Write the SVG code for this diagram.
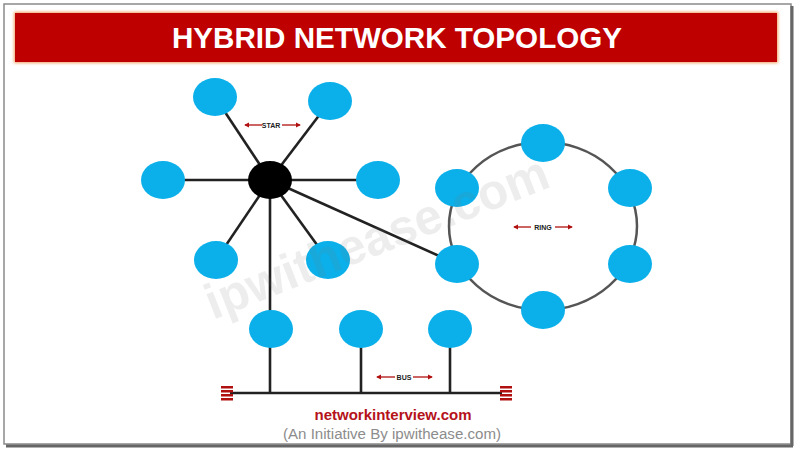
<svg xmlns="http://www.w3.org/2000/svg" width="800" height="455" viewBox="0 0 800 455">
<defs>
<style>
.node{fill:#0bb0ea}
.hub{fill:#000}
.edge{stroke:#222;stroke-width:2.6;fill:none}
.ring{stroke:#555;stroke-width:2.5;fill:none}
.lbl{font-family:"Liberation Sans",Arial,sans-serif;font-weight:bold;font-size:7px;fill:#222}
.arr{stroke:#b01010;stroke-width:1.3;fill:none}
.term{fill:#b01010}
</style>
<marker id="ah" viewBox="0 0 6 6" refX="5" refY="3" markerWidth="4" markerHeight="4" orient="auto-start-reverse">
<path d="M0,0 L6,3 L0,6 z" fill="#b01010"/>
</marker>
<filter id="glow" x="-5%" y="-20%" width="110%" height="140%">
<feGaussianBlur stdDeviation="1.5"/>
</filter>
</defs>
<rect width="800" height="455" fill="#fff"/>
<!-- frame -->
<rect x="4" y="4" width="787" height="440" fill="#fff" stroke="#8a8a8a" stroke-width="1.5"/>
<line x1="792" y1="6" x2="792" y2="446" stroke="#666" stroke-width="3"/>
<line x1="6" y1="446" x2="793" y2="446" stroke="#666" stroke-width="3"/>
<!-- title -->
<g id="title">
<rect x="14" y="12" width="764" height="51" fill="#f0a060" filter="url(#glow)"/>
<rect x="15" y="13" width="762" height="49" fill="#bf0000"/>
<text x="397" y="48" text-anchor="middle" font-family="'Liberation Sans Narrow','Liberation Sans',Arial,sans-serif" font-weight="bold" font-size="30" fill="#fff" textLength="450" lengthAdjust="spacingAndGlyphs">HYBRID NETWORK TOPOLOGY</text>
</g>
<!-- connectors -->
<g id="connectors">
<line class="edge" x1="270" y1="180" x2="215" y2="97"/>
<line class="edge" x1="270" y1="180" x2="330" y2="101"/>
<line class="edge" x1="270" y1="180" x2="163" y2="180"/>
<line class="edge" x1="270" y1="180" x2="378" y2="180"/>
<line class="edge" x1="270" y1="180" x2="216" y2="260"/>
<line class="edge" x1="270" y1="180" x2="328" y2="260"/>
<line class="edge" x1="270" y1="180" x2="270" y2="393"/>
<line class="edge" x1="270" y1="180" x2="457" y2="264"/>
<ellipse class="ring" cx="543" cy="226" rx="94" ry="84"/>
<line class="edge" x1="361" y1="329" x2="361" y2="393"/>
<line class="edge" x1="450" y1="329" x2="450" y2="393"/>
<line class="edge" x1="230" y1="393" x2="502" y2="393"/>
</g>
<!-- terminators -->
<g id="terminator-left">
<rect class="term" x="221" y="386" width="12" height="2.5"/>
<rect class="term" x="221" y="390" width="12" height="2.5"/>
<rect class="term" x="221" y="394" width="12" height="2.5"/>
<rect class="term" x="221" y="398" width="12" height="2.5"/>
</g>
<g id="terminator-right">
<rect class="term" x="500" y="386" width="12" height="2.5"/>
<rect class="term" x="500" y="390" width="12" height="2.5"/>
<rect class="term" x="500" y="394" width="12" height="2.5"/>
<rect class="term" x="500" y="398" width="12" height="2.5"/>
</g>
<!-- star -->
<g id="hub"><ellipse class="hub" cx="270" cy="180" rx="22" ry="19"/></g>
<g id="star-n1"><ellipse class="node" cx="215" cy="97" rx="22" ry="19"/></g>
<g id="star-n2"><ellipse class="node" cx="330" cy="101" rx="22" ry="19"/></g>
<g id="star-n3"><ellipse class="node" cx="163" cy="180" rx="22" ry="19"/></g>
<g id="star-n4"><ellipse class="node" cx="378" cy="180" rx="22" ry="19"/></g>
<g id="star-n5"><ellipse class="node" cx="216" cy="260" rx="22" ry="19"/></g>
<g id="star-n6"><ellipse class="node" cx="328" cy="260" rx="22" ry="19"/></g>
<!-- bus -->
<g id="bus-n1"><ellipse class="node" cx="271" cy="329" rx="22" ry="19"/></g>
<g id="bus-n2"><ellipse class="node" cx="361" cy="329" rx="22" ry="19"/></g>
<g id="bus-n3"><ellipse class="node" cx="450" cy="329" rx="22" ry="19"/></g>
<!-- ring -->
<g id="ring-n1"><ellipse class="node" cx="543" cy="143" rx="22" ry="19"/></g>
<g id="ring-n2"><ellipse class="node" cx="630" cy="188" rx="22" ry="19"/></g>
<g id="ring-n3"><ellipse class="node" cx="630" cy="264" rx="22" ry="19"/></g>
<g id="ring-n4"><ellipse class="node" cx="543" cy="310" rx="22" ry="19"/></g>
<g id="ring-n5"><ellipse class="node" cx="457" cy="264" rx="22" ry="19"/></g>
<g id="ring-n6"><ellipse class="node" cx="457" cy="188" rx="22" ry="19"/></g>
<!-- labels -->
<g id="label-star">
<line class="arr" x1="262" y1="125" x2="245" y2="125" marker-end="url(#ah)"/>
<text class="lbl" x="271" y="127.5" text-anchor="middle">STAR</text>
<line class="arr" x1="282" y1="125" x2="300" y2="125" marker-end="url(#ah)"/>
</g>
<g id="label-ring">
<line class="arr" x1="531" y1="227" x2="514" y2="227" marker-end="url(#ah)"/>
<text class="lbl" x="543" y="229.5" text-anchor="middle">RING</text>
<line class="arr" x1="555" y1="227" x2="572" y2="227" marker-end="url(#ah)"/>
</g>
<g id="label-bus">
<line class="arr" x1="395" y1="377" x2="377" y2="377" marker-end="url(#ah)"/>
<text class="lbl" x="404" y="379.5" text-anchor="middle">BUS</text>
<line class="arr" x1="413" y1="377" x2="432" y2="377" marker-end="url(#ah)"/>
</g>
<!-- watermark -->
<text x="0" y="0" transform="translate(213,320) rotate(-21.5)" font-family="'Liberation Sans',Arial,sans-serif" font-weight="bold" font-size="50" fill="#777" fill-opacity="0.13" textLength="365" lengthAdjust="spacingAndGlyphs">ipwithease.com</text>
<!-- footer -->
<text x="393" y="420" text-anchor="middle" font-family="'Liberation Sans',Arial,sans-serif" font-weight="bold" font-size="14" fill="#b5121b" textLength="157" lengthAdjust="spacingAndGlyphs">networkinterview.com</text>
<text x="392" y="439" text-anchor="middle" font-family="'Liberation Sans',Arial,sans-serif" font-size="14" fill="#8c8c8c" textLength="218" lengthAdjust="spacingAndGlyphs">(An Initiative By ipwithease.com)</text>
</svg>
